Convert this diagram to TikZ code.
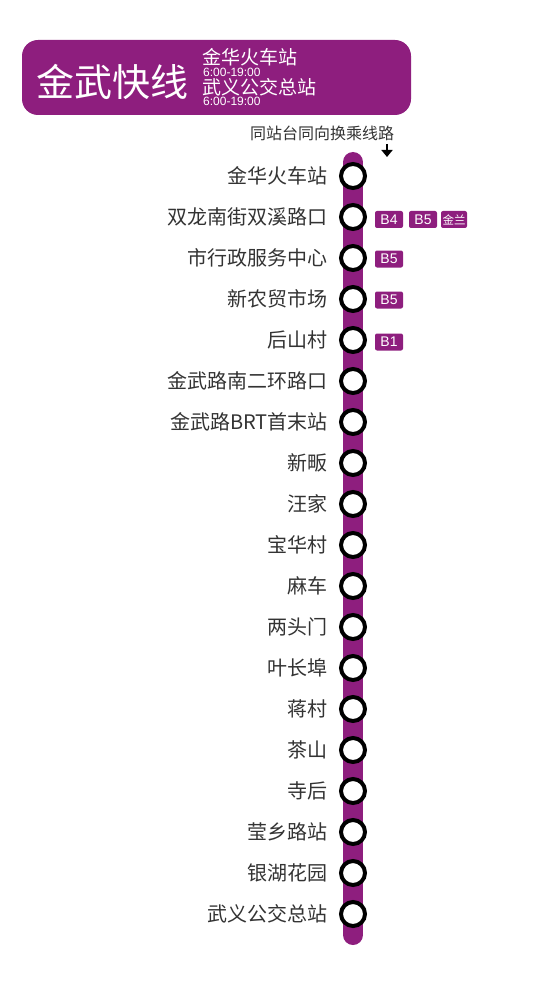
\documentclass[tikz,border=0pt]{standalone}
\usepackage{fontspec}
\setmainfont{Liberation Sans}
\newfontfamily\cjk{Noto Sans CJK SC}
\newfontfamily\lat{Liberation Sans}
\usetikzlibrary{arrows.meta}
\definecolor{lp}{HTML}{8E1E7E}
\definecolor{tx}{HTML}{333333}
\tikzset{
  stn/.style={circle,draw=black,fill=white,line width=4pt,minimum size=24pt,inner sep=0pt},
  lbl/.style={anchor=east,text=tx,font=\cjk\fontsize{20}{20}\selectfont,inner sep=0pt},
  badge/.style={fill=lp,rounded corners=2pt,minimum width=28pt,minimum height=17pt,inner sep=0pt,text=white,font=\lat\fontsize{14}{14}\selectfont},
  cbadge/.style={badge,minimum width=26pt,font=\cjk\fontsize{11.5}{11.5}\selectfont}
}
\begin{document}
\begin{tikzpicture}[x=1pt,y=-1pt]
\useasboundingbox (0,0) rectangle (552,1000);
% header
\node[fill=lp,rounded corners=16pt,minimum width=389pt,minimum height=75pt,inner sep=0pt] (hdr) at (216.5,77.5) {};
\node[anchor=west,text=white,font=\cjk\fontsize{38}{38}\selectfont,inner sep=0pt] (title) at (36,82) {金武快线};
\node[anchor=west,text=white,font=\cjk\fontsize{19}{19}\selectfont,inner sep=0pt] (from) at (202,57.5) {金华火车站};
\node[anchor=west,text=white,font=\lat\fontsize{12}{12}\selectfont,inner sep=0pt] (t1) at (203,72.5) {6:00-19:00};
\node[anchor=west,text=white,font=\cjk\fontsize{19}{19}\selectfont,inner sep=0pt] (to) at (202,87.5) {武义公交总站};
\node[anchor=west,text=white,font=\lat\fontsize{12}{12}\selectfont,inner sep=0pt] (t2) at (203,101.5) {6:00-19:00};
% transfer note
\node[text=tx,font=\cjk\fontsize{16}{16}\selectfont,inner sep=0pt] (note) at (322,133) {同站台同向换乘线路};
\coordinate (a1) at (387,144);
\coordinate (a2) at (387,157);
\draw[line width=2.5pt,-{Triangle[length=7pt,width=11pt]},black] (a1) -- (a2);
% line bar
\coordinate (top) at (353,162);
\coordinate (bot) at (353,935);
\draw[lp,line width=20pt,line cap=round] (top) -- (bot);
% stations
\foreach \i/\name in {1/金华火车站,2/双龙南街双溪路口,3/市行政服务中心,4/新农贸市场,5/后山村,6/金武路南二环路口,7/金武路BRT首末站,8/新畈,9/汪家,10/宝华村,11/麻车,12/两头门,13/叶长埠,14/蒋村,15/茶山,16/寺后,17/莹乡路站,18/银湖花园,19/武义公交总站}{
  \node[stn] (s\i) at (353,{176+41*(\i-1)}) {};
  \node[lbl] (l\i) at (328,{176+41*(\i-1)}) {\name};
}
% badges
\node[badge] (b2a) at (389,219.5) {B4};
\node[badge] (b2b) at (423,219.5) {B5};
\node[cbadge] (b2c) at (454,219.5) {金兰};
\node[badge] (b3) at (389,259) {B5};
\node[badge] (b4) at (389,300) {B5};
\node[badge] (b5) at (389,342) {B1};
\end{tikzpicture}
\end{document}
